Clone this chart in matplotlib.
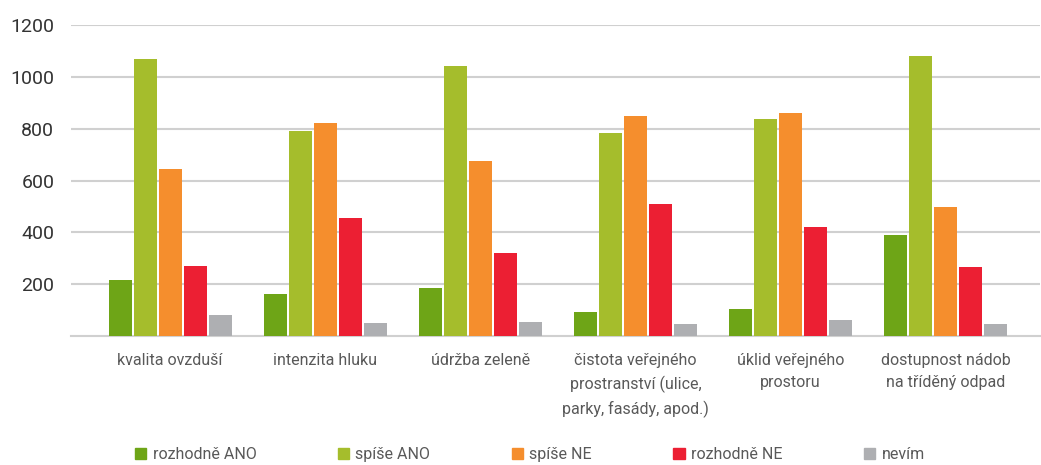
import numpy as np
import matplotlib
matplotlib.use('Agg')
import matplotlib.pyplot as plt
from matplotlib.patches import Patch

plt.rcParams['font.family'] = ['Roboto', 'DejaVu Sans']

categories = ['kvalita ovzduší', 'intenzita hluku', 'údržba zeleně',
              'čistota veřejného\nprostranství (ulice,\nparky, fasády, apod.)',
              'úklid veřejného\nprostoru', 'dostupnost nádob\nna tříděný odpad']
series = ['rozhodně ANO', 'spíše ANO', 'spíše NE', 'rozhodně NE', 'nevím']

rozhodne_ano = [217, 163, 187, 94, 106, 391]
spise_ano = [1070, 792, 1043, 784, 836, 1081]
spise_ne = [645, 824, 676, 850, 861, 499]
rozhodne_ne = [269, 456, 322, 508, 422, 265]
nevim = [80, 49, 55, 48, 63, 48]

values = [rozhodne_ano, spise_ano, spise_ne, rozhodne_ne, nevim]
colors = ['#6EA517', '#A5BD2C', '#F58E2D', '#EC1F33', '#AEAFB2']

fig = plt.figure(figsize=(10.41, 4.65), dpi=100)
ax = fig.add_axes([0.0682, 0.2774, 0.931, 0.6686])

x = np.arange(len(categories))
width = 0.148
step = 0.161
for i in range(len(series)):
    ax.bar(x + (i - 2) * step, values[i], width, color=colors[i], zorder=3)

ax.set_ylim(0, 1200)
ax.set_xlim(-0.639, 5.61)
ax.set_yticks([200, 400, 600, 800, 1000, 1200])
ax.yaxis.grid(True, color='#D0D0D0', linewidth=1.5, zorder=0)
ax.set_axisbelow(True)
for s in ['top', 'right', 'left']:
    ax.spines[s].set_visible(False)
ax.spines['bottom'].set_color('#D0D0D0')
ax.spines['bottom'].set_linewidth(1.5)
ax.tick_params(axis='y', length=0, labelsize=14, colors='#333333', pad=12)
ax.tick_params(axis='x', length=0, labelsize=11.5, colors='#595959', pad=12)
ax.set_xticks(x)
ax.set_xticklabels(categories, linespacing=1.6)

handles = [Patch(color=colors[i], label=series[i]) for i in range(len(series))]
fig.legend(handles=handles, loc='center', bbox_to_anchor=(0.509, 0.022), ncol=5,
           frameon=False, fontsize=11.5, handlelength=0.7, handleheight=0.7,
           handletextpad=0.4, columnspacing=5.1, labelcolor='#595959')

fig.savefig('out.png', dpi=100)
